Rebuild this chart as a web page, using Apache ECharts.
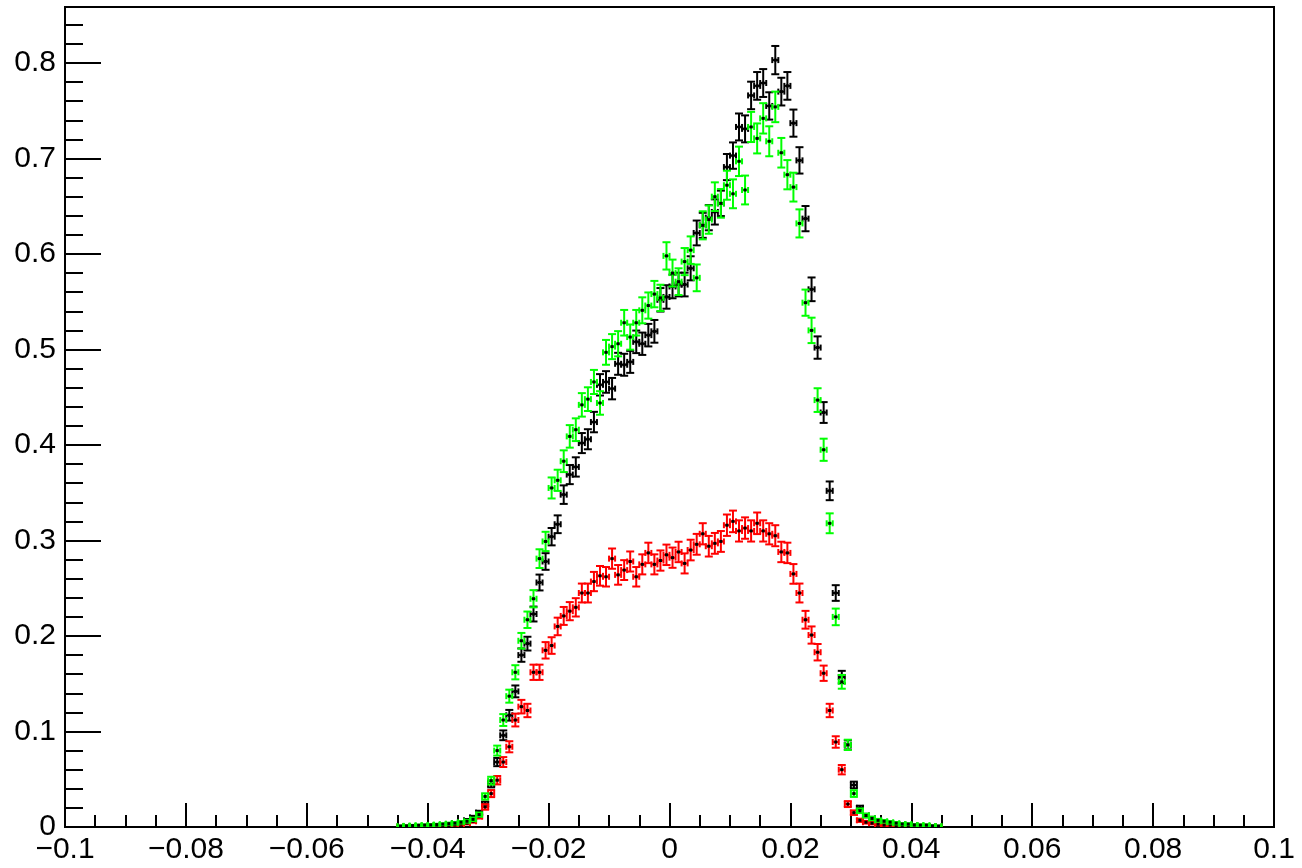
<!DOCTYPE html>
<html>
<head>
<meta charset="utf-8">
<script src="https://cdn.jsdelivr.net/npm/echarts@6.0.0/dist/echarts.min.js"></script>
<style>
html,body{margin:0;padding:0;background:#fff;}
#chart{width:1302px;height:868px;}
</style>
</head>
<body>
<div id="chart"></div>
<script>
// Histogram binning: 90 bins of width 0.001 starting at -0.045
var binLow = -0.045;
var binWidth = 0.001;

// Black histogram
var blackValues = [0.0005,0.0007,0.001,0.001,0.0012,0.0015,0.002,0.002,0.003,0.004,
0.005,0.007,0.01,0.015,0.024,0.045,0.068,0.096,0.117,0.142,
0.18,0.192,0.223,0.256,0.278,0.304,0.317,0.348,0.369,0.377,
0.402,0.406,0.424,0.463,0.466,0.459,0.485,0.484,0.487,0.508,
0.506,0.515,0.519,0.552,0.555,0.566,0.568,0.568,0.585,0.622,
0.630,0.638,0.644,0.653,0.691,0.703,0.733,0.731,0.766,0.776,
0.779,0.755,0.803,0.770,0.776,0.737,0.698,0.637,0.563,0.502,
0.434,0.352,0.245,0.157,0.086,0.044,0.02,0.012,0.009,0.007,
0.005,0.004,0.003,0.003,0.002,0.002,0.001,0.001,0.001,0.0005];
var blackErrors = [0.0004,0.0004,0.0005,0.0005,0.0006,0.0006,0.0007,0.0007,0.0009,0.001,
0.0012,0.0014,0.0017,0.002,0.0026,0.0035,0.0043,0.0051,0.0056,0.0062,
0.007,0.0072,0.0078,0.0083,0.0087,0.0091,0.0093,0.0097,0.01,0.0101,
0.0105,0.0105,0.0107,0.0112,0.0113,0.0112,0.0115,0.0115,0.0115,0.0118,
0.0117,0.0118,0.0119,0.0123,0.0123,0.0124,0.0124,0.0124,0.0126,0.013,
0.0131,0.0132,0.0132,0.0133,0.0137,0.0138,0.0141,0.0141,0.0144,0.0145,
0.0146,0.0143,0.0148,0.0145,0.0145,0.0142,0.0138,0.0132,0.0124,0.0117,
0.0109,0.0098,0.0082,0.0065,0.0048,0.0035,0.0023,0.0018,0.0016,0.0014,
0.0012,0.001,0.0009,0.0009,0.0007,0.0007,0.0005,0.0005,0.0005,0.0004];

// Green histogram
var greenValues = [0.001,0.0012,0.0015,0.0018,0.002,0.0022,0.0025,0.003,0.0035,0.004,
0.005,0.006,0.008,0.013,0.032,0.0485,0.08,0.112,0.137,0.162,
0.195,0.217,0.239,0.281,0.299,0.355,0.363,0.383,0.409,0.416,
0.442,0.448,0.466,0.444,0.497,0.503,0.506,0.528,0.513,0.528,
0.541,0.546,0.558,0.554,0.598,0.580,0.571,0.592,0.604,0.575,
0.630,0.636,0.660,0.653,0.672,0.663,0.697,0.667,0.733,0.721,
0.742,0.718,0.754,0.706,0.683,0.670,0.632,0.549,0.520,0.447,
0.395,0.318,0.220,0.152,0.086,0.035,0.017,0.012,0.009,0.007,
0.006,0.005,0.004,0.003,0.003,0.002,0.002,0.002,0.001,0.001];
var greenErrors = [0.0006,0.0006,0.0007,0.0008,0.0008,0.0009,0.0009,0.001,0.0011,0.0012,
0.0013,0.0014,0.0017,0.0021,0.0033,0.0041,0.0052,0.0062,0.0068,0.0074,
0.0082,0.0086,0.009,0.0098,0.0101,0.011,0.0111,0.0114,0.0118,0.0119,
0.0123,0.0124,0.0126,0.0123,0.013,0.0131,0.0132,0.0134,0.0132,0.0134,
0.0136,0.0137,0.0138,0.0138,0.0143,0.0141,0.014,0.0142,0.0144,0.014,
0.0147,0.0148,0.015,0.015,0.0152,0.0151,0.0154,0.0151,0.0158,0.0157,
0.0159,0.0157,0.016,0.0155,0.0153,0.0151,0.0147,0.0137,0.0133,0.0124,
0.0116,0.0104,0.0087,0.0072,0.0054,0.0035,0.0024,0.002,0.0018,0.0015,
0.0014,0.0013,0.0012,0.001,0.001,0.0008,0.0008,0.0008,0.0006,0.0006];

// Red histogram
var redValues = [0.0003,0.0003,0.0004,0.0005,0.0006,0.0008,0.001,0.001,0.0015,0.002,
0.003,0.004,0.006,0.011,0.021,0.035,0.049,0.068,0.084,0.112,
0.126,0.122,0.162,0.162,0.185,0.19,0.21,0.221,0.226,0.23,
0.245,0.245,0.257,0.263,0.262,0.281,0.264,0.269,0.278,0.262,
0.275,0.287,0.275,0.279,0.285,0.282,0.288,0.276,0.29,0.296,
0.307,0.294,0.297,0.299,0.316,0.32,0.31,0.313,0.31,0.318,
0.31,0.307,0.305,0.288,0.287,0.265,0.245,0.217,0.201,0.183,
0.161,0.122,0.089,0.06,0.024,0.015,0.007,0.005,0.004,0.003,
0.002,0.002,0.0015,0.001,0.001,0.0008,0.0006,0.0005,0.0004,0.0003];
var redErrors = [0.0003,0.0003,0.0004,0.0004,0.0005,0.0006,0.0006,0.0006,0.0008,0.0009,
0.0011,0.0013,0.0015,0.0021,0.0029,0.0037,0.0044,0.0052,0.0058,0.0067,
0.0071,0.007,0.008,0.008,0.0086,0.0087,0.0092,0.0094,0.0095,0.0096,
0.0099,0.0099,0.0101,0.0103,0.0102,0.0106,0.0103,0.0104,0.0105,0.0102,
0.0105,0.0107,0.0105,0.0106,0.0107,0.0106,0.0107,0.0105,0.0108,0.0109,
0.0111,0.0108,0.0109,0.0109,0.0112,0.0113,0.0111,0.0112,0.0111,0.0113,
0.0111,0.0111,0.011,0.0107,0.0107,0.0103,0.0099,0.0093,0.009,0.0086,
0.008,0.007,0.006,0.0049,0.0031,0.0024,0.0017,0.0014,0.0013,0.0011,
0.0009,0.0009,0.0008,0.0006,0.0006,0.0006,0.0005,0.0004,0.0004,0.0003];

var xTickValues = [-0.1,-0.08,-0.06,-0.04,-0.02,0,0.02,0.04,0.06,0.08,0.1];
var yTickValues = [0,0.1,0.2,0.3,0.4,0.5,0.6,0.7,0.8];

function buildData(vals, errs){
  var out = [];
  for (var i = 0; i < vals.length; i++){
    var center = binLow + binWidth * (i + 0.5);
    out.push([center, vals[i], errs[i]]);
  }
  return out;
}

function makeRender(color){
  return function(params, api){
    var x = api.value(0), y = api.value(1), e = api.value(2);
    var c = api.coord([x, y]);
    var lo = api.coord([x - binWidth/2, y]);
    var hi = api.coord([x + binWidth/2, y]);
    var top = api.coord([x, y + e]);
    var bot = api.coord([x, y - e]);
    var cap = 4, tk = 3;
    var st = {stroke: color, lineWidth: 2, fill: null};
    return {
      type: 'group',
      children: [
        {type:'line', shape:{x1:c[0], y1:top[1], x2:c[0], y2:bot[1]}, style:st},
        {type:'line', shape:{x1:c[0]-cap, y1:top[1], x2:c[0]+cap, y2:top[1]}, style:st},
        {type:'line', shape:{x1:c[0]-cap, y1:bot[1], x2:c[0]+cap, y2:bot[1]}, style:st},
        {type:'line', shape:{x1:lo[0], y1:c[1], x2:hi[0], y2:c[1]}, style:st},
        {type:'line', shape:{x1:lo[0], y1:c[1]-tk, x2:lo[0], y2:c[1]+tk}, style:st},
        {type:'line', shape:{x1:hi[0], y1:c[1]-tk, x2:hi[0], y2:c[1]+tk}, style:st},
        {type:'rect', shape:{x:c[0]-1.5, y:c[1]-1.5, width:3, height:3}, style:{fill:'#000'}}
      ]
    };
  };
}

function fmtX(v){
  var r = Math.round(v*100)/100;
  if (xTickValues.indexOf(r) < 0) return '';
  if (r === 0) return '0';
  return (r < 0 ? '\u2212' : '') + String(Math.abs(r));
}
function fmtY(v){
  var r = Math.round(v*1000)/1000;
  if (yTickValues.indexOf(r) < 0) return '';
  return String(r);
}

var chart = echarts.init(document.getElementById('chart'), null, {renderer:'canvas'});
var font = 'Liberation Sans, Arial, Helvetica, sans-serif';
chart.setOption({
  animation: false,
  backgroundColor: '#fff',
  grid: {left: 65, right: 28, top: 7, bottom: 41, show: true, borderColor: '#000', borderWidth: 2, backgroundColor: 'transparent'},
  xAxis: {
    type: 'value', min: -0.1, max: 0.1, interval: 0.02,
    axisLine: {show: true, onZero: false, lineStyle: {color: '#000', width: 2}},
    axisTick: {show: true, inside: true, length: 24, lineStyle: {color: '#000', width: 2}},
    minorTick: {show: true, splitNumber: 4, length: 12, lineStyle: {color: '#000', width: 2}},
    splitLine: {show: false},
    axisLabel: {show: true, interval: 0, margin: 8, color: '#000', fontSize: 30, fontFamily: font, lineHeight: 30, formatter: fmtX}
  },
  yAxis: {
    type: 'value', min: 0, max: 0.8586, interval: 0.1,
    axisLine: {show: true, onZero: false, lineStyle: {color: '#000', width: 2}},
    axisTick: {show: true, inside: true, length: 36, lineStyle: {color: '#000', width: 2}},
    minorTick: {show: true, splitNumber: 5, length: 18, lineStyle: {color: '#000', width: 2}},
    splitLine: {show: false},
    axisLabel: {show: true, margin: 9, color: '#000', fontSize: 30, fontFamily: font, formatter: fmtY}
  },
  series: [
    {type:'custom', name:'black', renderItem: makeRender('#000000'), data: buildData(blackValues, blackErrors), clip: true},
    {type:'custom', name:'red', renderItem: makeRender('#ff0000'), data: buildData(redValues, redErrors), clip: true},
    {type:'custom', name:'green', renderItem: makeRender('#00ff00'), data: buildData(greenValues, greenErrors), clip: true}
  ]
});
</script>
</body>
</html>
